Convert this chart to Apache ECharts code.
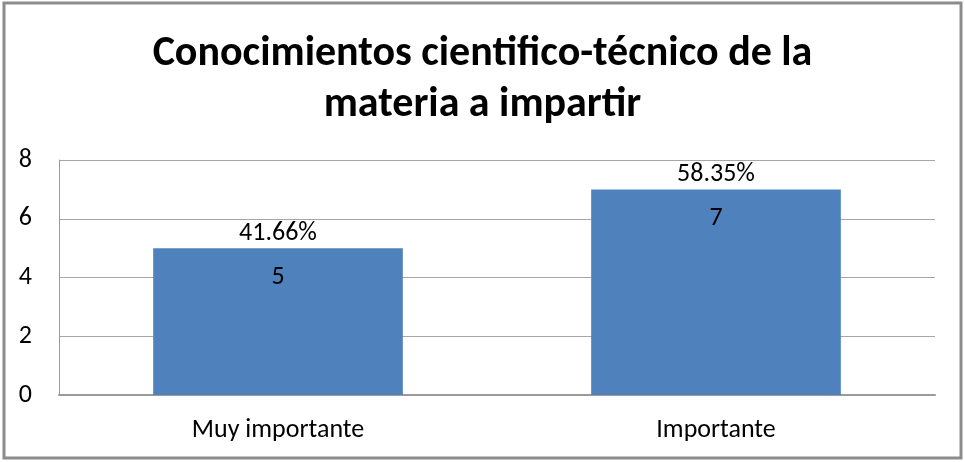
<!DOCTYPE html>
<html>
<head>
<meta charset="UTF-8">
<title>Conocimientos</title>
<script type="text/javascript" src="https://cdn.jsdelivr.net/npm/echarts@6/dist/echarts.min.js"></script>
<style>
  html, body { margin: 0; padding: 0; background: #fff; }
</style>
</head>
<body>
<div id="div" style="width:965px;height:462px"></div>
<script type="text/javascript">
var categorias = ['Muy importante', 'Importante'];
var valores = [5, 7];
var porcentajes = ['41.66%', '58.35%'];
var ticksY = [0, 2, 4, 6, 8];

var fuente = 'Carlito, Lato, "Open Sans", sans-serif';
var mychart = echarts.init(document.getElementById('div'));
var option = {
  animation: false,
  title: {
    text: 'Conocimientos cientifico-técnico de la\nmateria a impartir',
    left: 'center',
    top: 24,
    textStyle: {
      fontFamily: fuente,
      fontSize: 42,
      fontWeight: 'bold',
      color: '#000',
      lineHeight: 51
    }
  },
  graphic: [{
    type: 'rect',
    shape: { x: 4, y: 3, width: 957, height: 455 },
    style: { fill: 'none', stroke: '#8c8c8c', lineWidth: 3 },
    silent: true
  }],
  grid: { left: 59, right: 30, top: 160, bottom: 67 },
  xAxis: {
    type: 'category',
    data: categorias,
    axisLine: { lineStyle: { color: '#9a9a9a', width: 2 } },
    axisTick: { show: false },
    axisLabel: { color: '#000', fontFamily: fuente, fontSize: 26, margin: 22 }
  },
  yAxis: {
    type: 'value',
    min: ticksY[0],
    max: ticksY[ticksY.length - 1],
    interval: 2,
    axisLine: { show: true, lineStyle: { color: '#9a9a9a', width: 1 } },
    axisTick: { show: false },
    splitLine: { lineStyle: { color: '#a6a6a6', width: 1 } },
    axisLabel: { color: '#000', fontFamily: fuente, fontSize: 26, margin: 27 }
  },
  series: [{
    name: 'valor',
    type: 'bar',
    data: valores,
    barWidth: '57%',
    itemStyle: { color: '#4f81bd' },
    label: {
      show: true,
      position: 'insideTop',
      distance: 16,
      color: '#000',
      fontFamily: fuente,
      fontSize: 26
    }
  }, {
    name: 'porcentaje',
    type: 'bar',
    data: valores,
    barWidth: '57%',
    barGap: '-100%',
    itemStyle: { color: 'rgba(0,0,0,0)' },
    silent: true,
    label: {
      show: true,
      position: 'top',
      distance: 2,
      color: '#000',
      fontFamily: fuente,
      fontSize: 26,
      formatter: function (p) { return porcentajes[p.dataIndex]; }
    }
  }]
};
mychart.setOption(option);
</script>
</body>
</html>
